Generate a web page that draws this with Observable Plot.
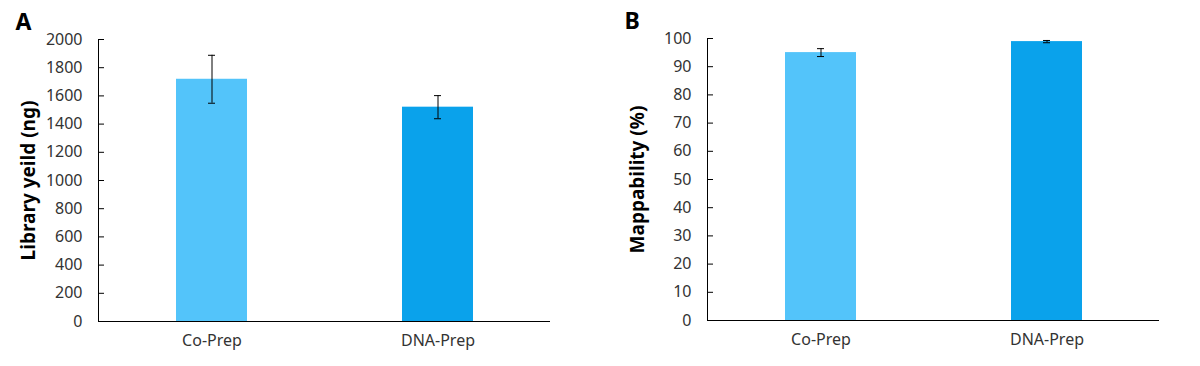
<!DOCTYPE html>
<html><head><meta charset="utf-8">
<script src="https://cdn.jsdelivr.net/npm/d3@7"></script>
<script src="https://cdn.jsdelivr.net/npm/@observablehq/plot@0.6"></script>
<style>
body{margin:0;background:#fff;}
#wrap{display:flex;width:1200px;height:366px;}
</style>
</head><body><div id="wrap"></div>
<script>
const categories = ["Co-Prep", "DNA-Prep"];
const barColors = ["#53C4FA", "#0AA2EB"];
const yieldMean = [1718, 1520];
const yieldErr = [170, 82];
const yieldTicks = [0, 200, 400, 600, 800, 1000, 1200, 1400, 1600, 1800, 2000];
const mapMean = [95.0, 98.9];
const mapErr = [1.4, 0.4];
const mapTicks = [0, 10, 20, 30, 40, 50, 60, 70, 80, 90, 100];

const FONT = "'Noto Sans', sans-serif";

function panel({letter, title, mean, err, ticks, max, marginLeft, marginRight, marginTop, marginBottom}) {
  const width = 600, height = 366;
  const plotW = width - marginLeft - marginRight;
  const data = categories.map((c, i) => ({cat: c, mean: mean[i], lo: mean[i] - err[i], hi: mean[i] + err[i]}));
  return Plot.plot({
    width, height, marginLeft, marginRight, marginTop, marginBottom,
    style: {fontFamily: FONT, background: "#fff"},
    x: {domain: categories, paddingInner: 0.686, paddingOuter: 0.343, label: null},
    y: {domain: [0, max], label: null},
    color: {domain: categories, range: barColors},
    marks: [
      Plot.barY(data, {x: "cat", y: "mean", fill: "cat"}),
      Plot.ruleX(data, {x: "cat", y1: "lo", y2: "hi", stroke: "#000", strokeWidth: 1}),
      Plot.tickY(data, {x: "cat", y: "lo", stroke: "#000", insetLeft: 32, insetRight: 32}),
      Plot.tickY(data, {x: "cat", y: "hi", stroke: "#000", insetLeft: 32, insetRight: 32}),
      Plot.ruleY(ticks, {y: d => d, stroke: "#000", insetRight: plotW - 6}),
      Plot.axisY({ticks, tickFormat: d => String(d), tickSize: 0, tickPadding: 16, fontSize: 16, color: "#333", label: null}),
      Plot.axisX({tickSize: 0, tickPadding: 13, fontSize: 16, color: "#333", label: null}),
      Plot.ruleY([0], {stroke: "#000"}),
      Plot.frame({anchor: "left", stroke: "#000"}),
      Plot.text([title], {frameAnchor: "left", rotate: -90, dx: -70, textAnchor: "middle", lineAnchor: "middle", fontWeight: "bold", fontSize: 19, fill: "#000"}),
      Plot.text([letter], {frameAnchor: "top-left", dx: -83, dy: -17, lineAnchor: "middle", textAnchor: "start", fontWeight: "bold", fontSize: 23, fill: "#000"})
    ]
  });
}

const wrap = document.getElementById("wrap");
wrap.append(panel({letter: "A", title: "Library yeild (ng)", mean: yieldMean, err: yieldErr, ticks: yieldTicks, max: 2000,
  marginLeft: 98, marginRight: 50, marginTop: 39, marginBottom: 45}));
wrap.append(panel({letter: "B", title: "Mappability (%)", mean: mapMean, err: mapErr, ticks: mapTicks, max: 100,
  marginLeft: 107, marginRight: 41, marginTop: 38, marginBottom: 46}));
</script>
</body></html>
